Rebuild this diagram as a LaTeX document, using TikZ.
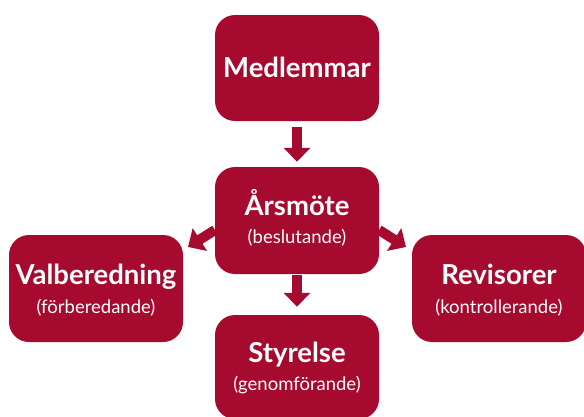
\documentclass[tikz,border=0pt]{standalone}
\usepackage{fontspec}
\setmainfont{Lato}
\usetikzlibrary{arrows.meta}
\definecolor{wine}{RGB}{166,10,46}
\begin{document}
\begin{tikzpicture}[x=1pt,y=-1pt,
  box/.style={fill=wine, rounded corners=20pt, inner sep=0pt, minimum width=164pt, minimum height=106pt},
  ttl/.style={text=white, font=\fontsize{27.5}{32}\selectfont\bfseries, inner sep=0pt, anchor=base},
  sub/.style={text=white, font=\fontsize{18.5}{22}\selectfont, inner sep=0pt, anchor=base},
  blockarrow/.style={draw=wine, line width=10pt, -{Triangle[width=26pt,length=14pt]}}]
\useasboundingbox (0,0) rectangle (584,416);
\node[box] (med) at (297,68) {};
\node[ttl] (medt) at (297,77) {Medlemmar};
\node[box, minimum height=107pt] (ars) at (297,220.5) {};
\node[ttl] (arst) at (297,215) {Årsmöte};
\node[sub] (arss) at (297,243) {(beslutande)};
\node[box, minimum width=174pt, minimum height=107pt] (val) at (96,288.5) {};
\node[ttl] (valt) at (96,284) {Valberedning};
\node[sub] (vals) at (96,313) {(förberedande)};
\node[box, minimum width=174pt, minimum height=107pt] (rev) at (499,288.5) {};
\node[ttl] (revt) at (499,284) {Revisorer};
\node[sub] (revs) at (499,313) {(kontrollerande)};
\node[box, minimum height=104pt] (sty) at (297,367) {};
\node[ttl] (styt) at (297,362) {Styrelse};
\node[sub] (stys) at (297,390) {(genomförande)};
\coordinate (la) at (215,230);
\coordinate (lt) at (188,247);
\coordinate (ra) at (379,230);
\coordinate (rt) at (406,247);
\draw[blockarrow, shorten <=6pt, shorten >=5pt] (med) -- (ars);
\draw[blockarrow, shorten <=1pt, shorten >=8pt] (ars) -- (sty);
\draw[blockarrow] (la) -- (lt);
\draw[blockarrow] (ra) -- (rt);
\end{tikzpicture}
\end{document}
